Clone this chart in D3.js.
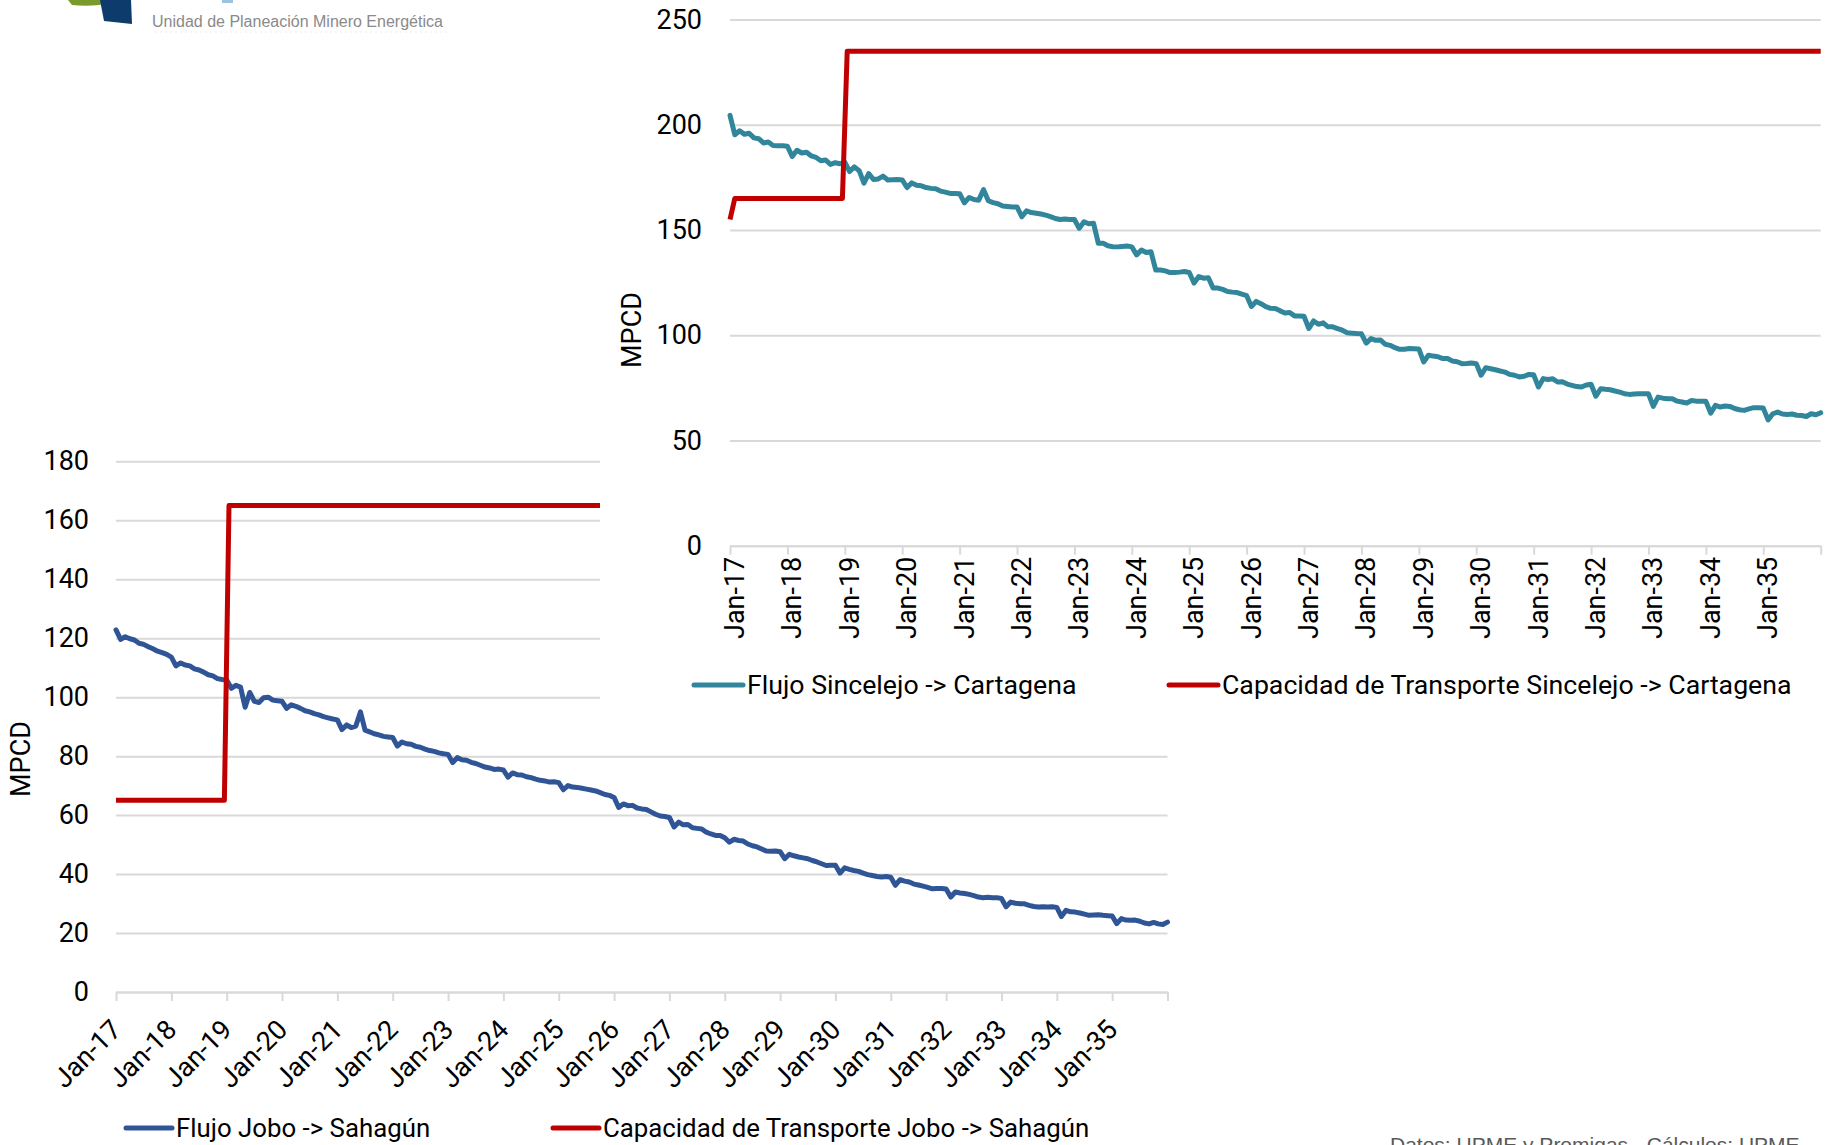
<!DOCTYPE html>
<html>
<head>
<meta charset="utf-8">
<script src="https://cdn.jsdelivr.net/npm/d3@7"></script>
<style>
  body { margin: 0; background: #fff; }
  svg { display: block; }
</style>
</head>
<body>
<svg id="chart" width="1836" height="1145"></svg>
<script>
// ---------------- DATA ----------------
const yearLabels = ["Jan-17","Jan-18","Jan-19","Jan-20","Jan-21","Jan-22","Jan-23","Jan-24","Jan-25","Jan-26",
                    "Jan-27","Jan-28","Jan-29","Jan-30","Jan-31","Jan-32","Jan-33","Jan-34","Jan-35"];

// monthly, Jan-17 ... Jan-36
const flujoJoboSahagun = [
  122.8,119.6,120.5,119.8,119.4,118.3,117.9,117.1,116.4,115.6,115.1,114.5,
  113.6,110.6,111.6,110.9,110.6,109.6,109.2,108.5,107.6,107.2,106.3,106.0,
  105.8,103.0,104.0,103.4,96.6,101.6,98.6,98.2,99.8,100.0,99.0,98.8,
  98.6,96.2,97.4,96.9,96.2,95.4,95.0,94.4,94.0,93.4,93.0,92.6,
  92.3,89.0,90.6,89.7,90.2,95.0,88.8,88.2,87.6,87.2,86.7,86.5,
  86.3,83.4,84.8,84.2,84.0,83.3,83.0,82.4,81.9,81.6,81.1,80.8,
  80.6,77.8,79.5,78.8,78.6,77.9,77.5,76.9,76.3,76.0,75.5,75.6,
  75.3,72.9,74.3,73.7,73.6,73.0,72.7,72.2,71.8,71.6,71.2,71.3,
  71.0,68.6,70.0,69.5,69.4,69.1,68.8,68.5,68.2,67.6,67.0,66.7,
  66.0,62.6,63.8,63.2,63.3,62.4,62.1,61.9,61.1,60.3,59.7,59.5,
  59.2,56.0,57.6,56.7,56.8,55.7,55.5,55.3,54.2,53.6,53.1,53.1,
  52.3,50.8,51.8,51.4,51.2,50.2,49.6,49.2,48.5,47.8,47.7,47.8,
  47.6,45.2,46.7,46.2,45.8,45.5,45.2,44.6,44.1,43.5,42.9,43.0,
  43.0,40.3,42.1,41.6,41.2,40.9,40.3,39.8,39.5,39.2,39.0,39.2,
  38.9,36.2,38.1,37.6,37.3,36.6,36.3,35.9,35.5,35.0,35.1,35.1,
  34.9,32.2,33.9,33.6,33.4,33.1,32.7,32.2,32.0,32.1,32.0,32.0,
  31.7,28.9,30.5,30.1,29.9,29.9,29.4,29.0,28.8,28.9,28.8,28.9,
  28.7,25.6,27.7,27.2,27.1,26.8,26.4,26.0,26.1,26.2,26.0,25.9,
  25.8,23.2,24.9,24.4,24.3,24.4,24.0,23.4,23.1,23.6,23.1,22.9,
  23.7
];
// capacity breakpoints (month index, value)
const capJoboMonth = [0, 23.5, 24.5, 228];
const capJoboValue = [65, 65, 165, 165];

const flujoSincelejoCartagena = [
  204.5,195.3,197.2,195.5,196.0,193.8,193.4,191.4,191.8,190.2,190.0,190.0,
  189.8,185.0,187.9,186.6,187.0,185.2,184.5,182.9,183.3,181.2,182.0,181.5,
  182.3,177.8,180.0,178.2,172.3,176.8,174.0,174.3,175.6,173.8,173.9,174.0,
  173.8,170.2,172.4,171.3,171.0,170.2,169.8,169.6,168.5,168.0,167.4,167.4,
  167.3,162.9,165.5,164.5,164.2,169.2,163.9,163.0,162.5,161.4,161.2,161.0,
  161.0,156.3,159.1,158.3,158.0,157.6,157.1,156.4,155.5,155.0,155.2,155.0,
  155.0,150.8,153.9,153.0,153.2,143.7,143.7,142.5,142.1,142.0,142.2,142.4,
  142.0,138.2,140.5,139.3,139.7,131.0,131.0,130.6,129.8,129.8,130.0,130.3,
  129.8,124.8,127.9,127.1,127.3,122.4,122.4,121.8,120.8,120.5,120.3,119.5,
  118.8,113.7,116.1,115.0,113.6,112.8,112.7,111.6,110.6,110.8,109.2,109.1,
  109.0,103.2,106.8,105.2,105.9,104.0,104.0,103.2,102.4,101.2,101.0,100.8,
  100.7,96.3,98.4,97.6,97.7,95.7,95.2,94.1,93.3,93.4,93.7,93.6,
  93.5,87.3,90.5,90.1,89.8,88.9,88.9,87.8,87.4,86.5,86.6,86.8,
  86.5,81.0,84.6,84.1,83.6,83.0,82.5,81.4,81.0,80.2,80.5,81.4,
  81.2,75.4,79.4,79.0,79.3,77.8,77.9,76.8,76.2,75.6,75.4,76.4,
  76.7,71.0,74.6,74.3,74.1,73.5,73.0,72.2,71.9,72.1,72.2,72.2,
  72.2,66.2,70.6,70.1,69.8,69.8,68.7,68.3,67.8,69.0,68.7,68.7,
  68.6,63.0,66.7,65.9,66.4,66.2,65.2,64.6,64.3,65.0,65.6,65.5,
  65.4,59.8,62.7,63.5,62.6,62.4,62.6,62.0,61.9,61.4,62.7,62.2,
  63.2
];
const capSincMonth = [0, 1, 23.5, 24.5, 228];
const capSincValue = [155, 165, 165, 235, 235];

const yTicksJobo = [0, 20, 40, 60, 80, 100, 120, 140, 160, 180];
const yTicksSinc = [0, 50, 100, 150, 200, 250];

const legendJobo = ["Flujo Jobo -> Sahagún", "Capacidad de Transporte Jobo -> Sahagún"];
const legendSinc = ["Flujo Sincelejo -> Cartagena", "Capacidad de Transporte Sincelejo -> Cartagena"];
const axisTitle = "MPCD";

// ---------------- DRAW ----------------
const svg = d3.select("#chart");
svg.append("rect").attr("width", 1836).attr("height", 1145).attr("fill", "#fff");

const FONT = "Roboto, 'Liberation Sans', sans-serif";
const FS = 27;
const GRID = "#d9d9d9";

function drawChart(c) {
  const g = svg.append("g");
  if (c.bg) g.append("rect").attr("x", c.bg[0]).attr("y", c.bg[1])
    .attr("width", c.bg[2]).attr("height", c.bg[3]).attr("fill", "#fff");

  const n = c.flow.length - 1;
  const x = d3.scaleLinear().domain([0, n]).range([c.x0, c.x1]);
  const y = d3.scaleLinear().domain([0, c.yMax]).range([c.y0, c.yTop]);

  // gridlines + y labels
  const ya = g.append("g").attr("transform", `translate(${c.x0},0)`)
    .call(d3.axisLeft(y).tickValues(c.yTicks).tickSize(-(c.x1 - c.x0))
      .tickPadding(c.yPad).tickFormat(d => d));
  ya.select(".domain").remove();
  ya.selectAll("line").attr("stroke", GRID).attr("stroke-width", 2);
  ya.selectAll("text").attr("font-family", FONT).attr("font-size", FS).attr("fill", "#000");

  // x axis
  const tickIdx = d3.range(0, n + 1, 12);
  const xa = g.append("g").attr("transform", `translate(0,${c.y0})`)
    .call(d3.axisBottom(x).tickValues(tickIdx).tickSize(9).tickSizeOuter(0)
      .tickFormat((d, i) => yearLabels[i] || ""));
  xa.select(".domain").attr("stroke", GRID).attr("stroke-width", 2);
  xa.selectAll("line").attr("stroke", GRID).attr("stroke-width", 2);
  xa.selectAll("text").attr("font-family", FONT).attr("font-size", FS).attr("fill", "#000")
    .attr("y", null).attr("dy", null)
    .attr("text-anchor", "end")
    .attr("transform", c.rot === -90
      ? `translate(4,${c.labDy}) rotate(-90)`
      : `translate(${c.labDx},${c.labDy}) rotate(-45)`)
    .attr("dy", c.rot === -90 ? "0.35em" : "0.7em");

  // lines
  const lineFlow = d3.line().x((d, i) => x(i)).y(d => y(d));
  g.append("path").datum(c.flow).attr("d", lineFlow)
    .attr("fill", "none").attr("stroke", c.flowColor).attr("stroke-width", 5)
    .attr("stroke-linejoin", "round").attr("stroke-linecap", "round");
  const capPts = c.capMonth.map((m, i) => [m, c.capValue[i]]);
  g.append("path").datum(capPts)
    .attr("d", d3.line().x(d => x(d[0])).y(d => y(d[1])))
    .attr("fill", "none").attr("stroke", "#C00000").attr("stroke-width", 5)
    .attr("stroke-linejoin", "round").attr("stroke-linecap", "butt");

  // axis title
  g.append("text").attr("transform", `translate(${c.titleX},${c.titleY}) rotate(-90)`)
    .attr("text-anchor", "middle").attr("dy", "0.35em")
    .attr("font-family", FONT).attr("font-size", FS).attr("fill", "#000").text(axisTitle);

  // legend
  const colors = [c.flowColor, "#C00000"];
  c.legend.forEach((t, i) => {
    const lx = c.legX[i];
    g.append("line").attr("x1", lx).attr("x2", lx + c.legLen).attr("y1", c.legY).attr("y2", c.legY)
      .attr("stroke", colors[i]).attr("stroke-width", 5).attr("stroke-linecap", "round");
    g.append("text").attr("x", lx + c.legLen + 4).attr("y", c.legY).attr("dy", "0.35em")
      .attr("font-family", FONT).attr("font-size", c.legFs).attr("fill", "#000").text(t);
  });
}

// bottom chart: Jobo -> Sahagún
drawChart({
  flow: flujoJoboSahagun, capMonth: capJoboMonth, capValue: capJoboValue,
  flowColor: "#2F5597",
  x0: 116, x1: 1167.5, y0: 992, yTop: 461.3, yMax: 180, yTicks: yTicksJobo, yPad: 27,
  rot: -45, labDx: -7, labDy: 26,
  titleX: 21, titleY: 759,
  legend: legendJobo, legX: [126, 553], legLen: 46, legY: 1128, legFs: 25.8
});

// top chart: Sincelejo -> Cartagena (overlapping, white background)
drawChart({
  bg: [600, 0, 1236, 732],
  flow: flujoSincelejoCartagena, capMonth: capSincMonth, capValue: capSincValue,
  flowColor: "#31869B",
  x0: 730, x1: 1820.7, y0: 545.7, yTop: 19.6, yMax: 250, yTicks: yTicksSinc, yPad: 28,
  rot: -90, labDy: 11,
  titleX: 632, titleY: 330,
  legend: legendSinc, legX: [694, 1169], legLen: 49, legY: 685, legFs: 26.7
});

// logo fragment (top-left)
const logo = svg.append("g");
logo.append("path").attr("d", "M68,0 L108,0 L107,4 Q90,7 72,5 Z").attr("fill", "#7a9a2c");
logo.append("path").attr("d", "M100,0 L131,0 L132,24 L104,21 Z").attr("fill", "#0d3b6b");
logo.append("rect").attr("x", 222).attr("y", 0).attr("width", 11).attr("height", 3).attr("fill", "#9cc3e0");
logo.append("text").attr("x", 152).attr("y", 27)
  .attr("font-family", "'Liberation Sans', Arial, sans-serif").attr("font-size", 16)
  .attr("fill", "#8a8a8a").text("Unidad de Planeación Minero Energética");
logo.append("line").attr("x1", 155).attr("x2", 448).attr("y1", 32).attr("y2", 32)
  .attr("stroke", "#ececec").attr("stroke-width", 1).attr("stroke-dasharray", "2,3");

// source (cut off at bottom, as in the reference)
svg.append("text").attr("x", 1390).attr("y", 1152)
  .attr("font-family", "'Liberation Sans', Arial, sans-serif").attr("font-size", 21)
  .attr("fill", "#595959").text("Datos: UPME y Promigas - Cálculos: UPME");
</script>
</body>
</html>
